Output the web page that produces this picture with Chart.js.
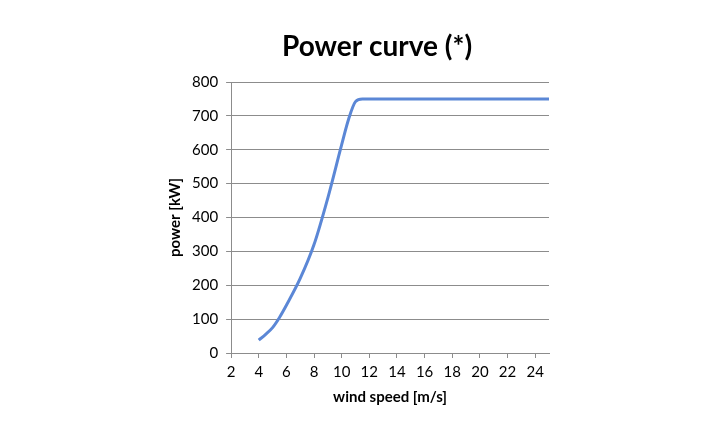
<!DOCTYPE html>
<html>
<head>
<meta charset="utf-8">
<script src="https://cdn.jsdelivr.net/npm/chart.js@4/dist/chart.umd.min.js"></script>
<style>
  html, body { margin: 0; padding: 0; background: #fff; }
  #wrap { width: 720px; height: 440px; }
</style>
</head>
<body>
<div id="wrap"><canvas id="chart" width="720" height="440"></canvas></div>
<script>
// wind speed [m/s] and power [kW]
const windSpeed = [4, 4.5, 5, 5.5, 6, 7, 8, 9, 10, 10.5, 11, 11.5, 12, 13, 14, 15, 16, 17, 18, 19, 20, 21, 22, 23, 24, 25];
const power     = [38, 55, 75, 105, 141, 220, 320, 458, 615, 690, 742, 750, 750, 750, 750, 750, 750, 750, 750, 750, 750, 750, 750, 750, 750, 750];
const chartTitle = 'Power curve (*)';

const gridGray = '#8c8c8c';
const lineBlue = '#5b87d6';

const points = windSpeed.map((x, i) => ({ x: x, y: power[i] }));

// title sits a bit left of the plot centre, like in the original
const titlePlugin = {
  id: 'offsetTitle',
  afterDraw(chart) {
    const { ctx, chartArea } = chart;
    ctx.save();
    ctx.font = 'bold 28px Lato';
    ctx.fillStyle = '#000';
    ctx.textAlign = 'center';
    ctx.textBaseline = 'middle';
    ctx.fillText(chartTitle, (chartArea.left + chartArea.right) / 2 - 13, 47);
    ctx.restore();
  },
};

new Chart(document.getElementById('chart').getContext('2d'), {
  type: 'line',
  data: {
    datasets: [{
      label: 'power',
      data: points,
      borderColor: lineBlue,
      borderWidth: 3,
      pointRadius: 0,
      fill: false,
      cubicInterpolationMode: 'monotone',
    }],
  },
  options: {
    responsive: false,
    animation: false,
    layout: { padding: { left: 166, right: 171, top: 82, bottom: 30 } },
    plugins: {
      legend: { display: false },
      tooltip: { enabled: false },
      title: { display: false },
    },
    scales: {
      x: {
        type: 'linear',
        min: 2,
        max: 25,
        grid: { display: true, drawOnChartArea: false, drawTicks: true, tickLength: 5, color: gridGray },
        border: { display: true, color: gridGray, width: 1 },
        ticks: {
          stepSize: 2,
          includeBounds: false,
          color: '#000',
          padding: 5,
          maxRotation: 0,
          font: { family: 'Lato', size: 15 },
        },
        title: {
          display: true,
          text: 'wind speed [m/s]',
          color: '#000',
          font: { family: 'Lato', size: 15, weight: 'bold' },
          padding: { top: 2 },
        },
      },
      y: {
        min: 0,
        max: 800,
        grid: { color: gridGray, lineWidth: 1, tickLength: 5 },
        border: { display: true, color: gridGray, width: 1 },
        ticks: {
          stepSize: 100,
          color: '#000',
          padding: 8,
          font: { family: 'Lato', size: 15 },
        },
        title: {
          display: true,
          text: 'power [kW]',
          color: '#000',
          font: { family: 'Lato', size: 15, weight: 'bold' },
          padding: 0,
        },
      },
    },
  },
  plugins: [titlePlugin],
});
</script>
</body>
</html>
